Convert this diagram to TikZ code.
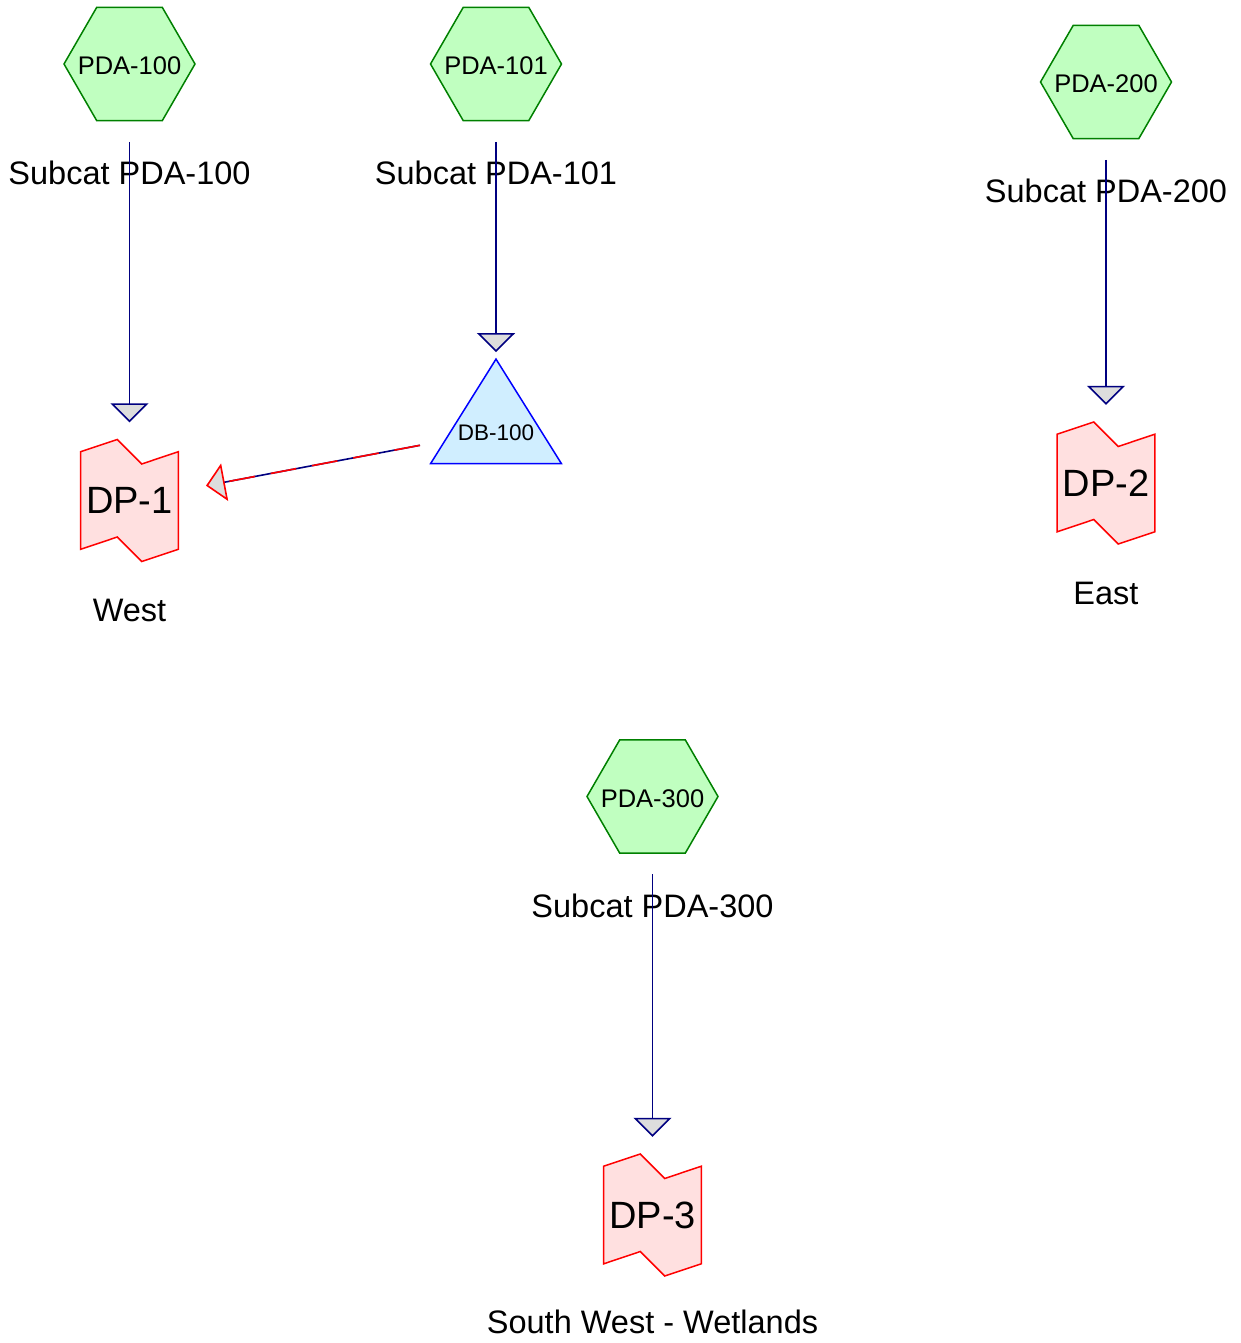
\documentclass[tikz,border=0pt]{standalone}
\usepackage{fontspec}
\setmainfont{Liberation Sans}
\usetikzlibrary{arrows.meta}
\definecolor{hexfill}{HTML}{C0FFC0}
\definecolor{hexline}{HTML}{008000}
\definecolor{dpfill}{HTML}{FFE0E0}
\definecolor{dpline}{HTML}{FF0000}
\definecolor{dbfill}{HTML}{D0EEFF}
\definecolor{dbline}{HTML}{0000FF}
\definecolor{flowc}{HTML}{000080}
\definecolor{arrowgray}{HTML}{DDDDDD}
\tikzset{
  hexshape/.style={draw=hexline, fill=hexfill, line width=1.5pt, line join=miter},
  hexnode/.style={rectangle, minimum width=131pt, minimum height=113.4pt, inner sep=0pt,
    text height=21pt, text depth=0pt, font=\fontsize{25.5}{30}\selectfont},
  dpshape/.style={draw=dpline, fill=dpfill, line width=1.5pt, line join=miter},
  dpnode/.style={rectangle, minimum width=97.6pt, minimum height=122pt, inner sep=0pt,
    font=\fontsize{38}{44}\selectfont},
  dbshape/.style={draw=dbline, fill=dbfill, line width=1.5pt},
  dbnode/.style={rectangle, minimum width=130.3pt, minimum height=104pt, inner sep=0pt},
  dblabel/.style={anchor=base, inner sep=0pt, font=\fontsize{22.5}{27}\selectfont},
  lbl/.style={anchor=base, inner sep=0pt, font=\fontsize{32.5}{38}\selectfont},
  tiphead/.style={-{Triangle[length=19pt, width=38pt, fill=arrowgray]}},
  flow/.style={draw=flowc, line width=1.6pt, tiphead, shorten <=21pt, shorten >=17pt},
}
\newcommand{\dpoutline}[1]{%
  \path[dpshape, shift={#1}] (-48.8,-48.8) -- (-12.2,-61) -- (12.2,-36.5) -- (48.8,-48.8)
    -- (48.8,48.8) -- (12.2,61) -- (-12.2,36.5) -- (-48.8,48.8) -- cycle;}
\newcommand{\hexoutline}[1]{%
  \path[hexshape, shift={#1}] (-65.5,0) -- (-32.75,-56.7) -- (32.75,-56.7) -- (65.5,0)
    -- (32.75,56.7) -- (-32.75,56.7) -- cycle;}
\begin{document}
\begin{tikzpicture}[x=1pt, y=-1pt]
\useasboundingbox (0,0) rectangle (1240,1343);
% subcatchment hexagons
\hexoutline{(129.5,64)}
\node[hexnode] (h100) at (129.5,64) {PDA-100};
\hexoutline{(496,64)}
\node[hexnode] (h101) at (496,64) {PDA-101};
\hexoutline{(1106,82)}
\node[hexnode] (h200) at (1106,82) {PDA-200};
\hexoutline{(652.5,796.5)}
\node[hexnode] (h300) at (652.5,796.5) {PDA-300};
% subcatchment labels
\node[lbl] (l100) at (129.5,184.8) {Subcat PDA-100};
\node[lbl] (l101) at (496,184.8) {Subcat PDA-101};
\node[lbl] (l200) at (1106,203) {Subcat PDA-200};
\node[lbl] (l300) at (652.5,917.2) {Subcat PDA-300};
% design points
\dpoutline{(129.5,500.5)}
\node[dpnode] (dp1) at (129.5,500.5) {DP-1};
\dpoutline{(1106,483)}
\node[dpnode] (dp2) at (1106,483) {DP-2};
\dpoutline{(652.5,1215)}
\node[dpnode] (dp3) at (652.5,1215) {DP-3};
\node[lbl] (lw) at (129.5,621.7) {West};
\node[lbl] (le) at (1106,604.3) {East};
\node[lbl] (lsw) at (652.5,1333.3) {South West - Wetlands};
% detention basin
\node[dbnode] (db) at (496,411.3) {};
\path[dbshape] (db.south west) -- (db.north) -- (db.south east) -- cycle;
\node[dblabel] (dbl) at (496,440) {DB-100};
% connectors
\draw[flow] (h100.south) -- (dp1.north);
\draw[flow, shorten >=7pt] (h101.south) -- (db.north);
\draw[flow] (h200.south) -- (dp2.north);
\draw[flow] (h300.south) -- (dp3.north);
\coordinate (dbout) at (420,445.3);
\coordinate (dp1in) at (206,485.7);
\draw[draw=flowc, line width=1.6pt, shorten >=18pt] (dbout) -- (dp1in);
\draw[draw=dpline, line width=1.6pt, dash pattern=on 26pt off 16pt,
  -{Triangle[length=19pt, width=38pt, fill=arrowgray]}] (dbout) -- (dp1in);
\end{tikzpicture}
\end{document}
